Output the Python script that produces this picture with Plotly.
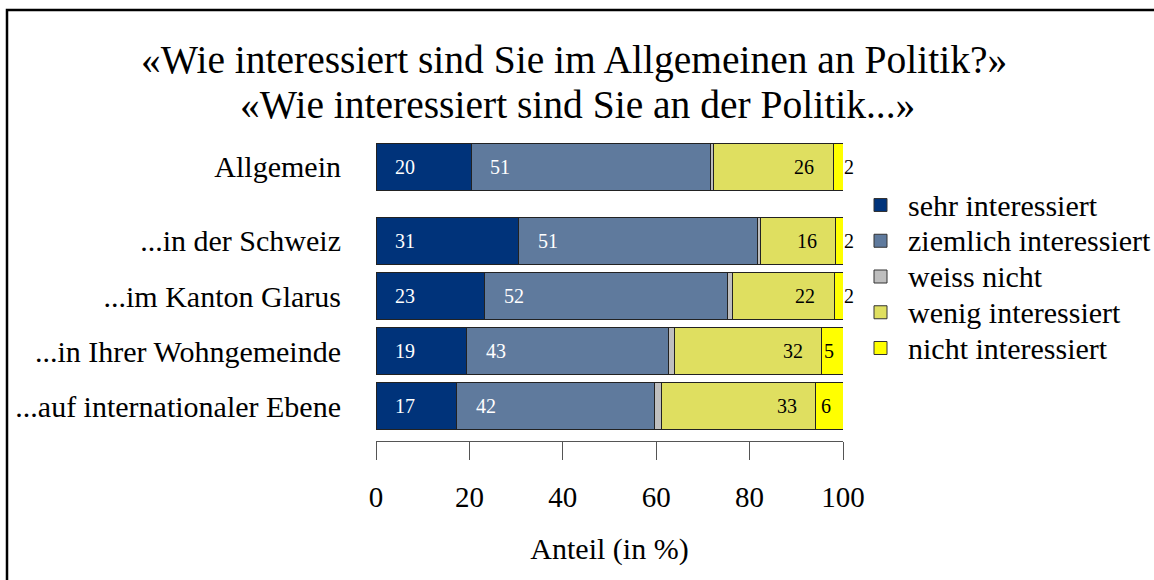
import plotly.graph_objects as go

# data (percent)
categories = ["Allgemein", "...in der Schweiz", "...im Kanton Glarus",
              "...in Ihrer Wohngemeinde", "...auf internationaler Ebene"]
series = ["sehr interessiert", "ziemlich interessiert", "weiss nicht",
          "wenig interessiert", "nicht interessiert"]
sehr = [20.4, 30.6, 23.3, 19.4, 17.3]
ziemlich = [51.2, 51.1, 51.9, 43.3, 42.3]
weiss = [0.7, 0.6, 1.1, 1.2, 1.6]
wenig = [25.6, 16.1, 21.8, 31.5, 33.0]
nicht = [2.1, 1.6, 1.9, 4.6, 5.8]
xticks = [0, 20, 40, 60, 80, 100]

values = [sehr, ziemlich, weiss, wenig, nicht]
colors = ["#00337A", "#5F7A9D", "#BEBEBE", "#DFDF60", "#FFFF00"]
FONT = "Liberation Serif"

# plot area in pixels: x 376..843, y 140..441
W, H = 1154, 580
L, R, T, B = 376, 311, 140, 139
pw, ph = W - L - R, H - T - B


def px_x(p):
    return (p - L) / pw


def px_y(p):
    return (H - B - p) / ph


# y positions: one slot per category, extra gap below "Allgemein"
n = len(categories)
ypos = [n - 1 - i for i in range(n)]
ypos[0] += 0.35

fig = go.Figure()
for name, vals, col in zip(series, values, colors):
    fig.add_trace(go.Bar(
        y=ypos, x=vals, name=name, orientation="h", width=0.855,
        marker=dict(color=col, line=dict(color="#222222", width=1)),
        hoverinfo="x+name", showlegend=False,
    ))

# value labels
annots = []
lab_font = lambda c: dict(color=c, size=20, family=FONT)
for i in range(n):
    start = 0
    for k, vals in enumerate(values):
        v = vals[i]
        end = start + v
        lab = str(round(v))
        if k in (0, 1):
            annots.append(dict(x=start + 6.2, y=ypos[i], text=lab, showarrow=False,
                               font=lab_font("white")))
        elif k == 3:
            annots.append(dict(x=end - 6.2, y=ypos[i], text=lab, showarrow=False,
                               font=lab_font("black")))
        elif k == 4:
            if v >= 3:
                annots.append(dict(x=(start + end) / 2 - 0.7, y=ypos[i], text=lab,
                                   showarrow=False, font=lab_font("black")))
            else:
                annots.append(dict(x=min(end, xticks[-1]), y=ypos[i], text=lab,
                                   showarrow=False, xanchor="left", xshift=-1,
                                   font=lab_font("black")))
        start = end

# title
annots += [
    dict(xref="paper", yref="paper", x=px_x(574), y=px_y(60), showarrow=False,
         text="«Wie interessiert sind Sie im Allgemeinen an Politik?»",
         font=dict(size=39.5, family=FONT, color="black"), yanchor="middle"),
    dict(xref="paper", yref="paper", x=px_x(577.5), y=px_y(105), showarrow=False,
         text="«Wie interessiert sind Sie an der Politik...»",
         font=dict(size=39.5, family=FONT, color="black"), yanchor="middle"),
]

# hand-made legend
shapes = [dict(type="rect", xref="paper", yref="paper",
               x0=px_x(7), x1=px_x(1300), y0=px_y(700), y1=px_y(10),
               line=dict(color="black", width=2.5), layer="below")]
for k, (name, col) in enumerate(zip(series, colors)):
    cy = 205 + 35.75 * k
    shapes.append(dict(type="rect", xref="paper", yref="paper",
                       x0=px_x(874), x1=px_x(887), y0=px_y(cy + 6.5), y1=px_y(cy - 6.5),
                       fillcolor=col, line=dict(color="#333333", width=1)))
    annots.append(dict(xref="paper", yref="paper", x=px_x(906), y=px_y(cy),
                       xanchor="left", yanchor="middle", showarrow=False, text=name,
                       font=dict(size=30, family=FONT, color="black")))

fig.update_layout(
    width=W, height=H,
    margin=dict(l=L, r=R, t=T, b=B, autoexpand=False),
    barmode="stack",
    plot_bgcolor="white", paper_bgcolor="white",
    font=dict(family=FONT, color="black", size=30),
    showlegend=False,
    annotations=annots,
    shapes=shapes,
)
fig.update_xaxes(range=[0, 100], tickvals=xticks, showgrid=False, zeroline=False,
                 showline=True, linecolor="#555555", linewidth=1,
                 ticks="outside", ticklen=18, tickcolor="#555555", tickwidth=1,
                 tickfont=dict(size=29, family=FONT), ticklabelstandoff=12,
                 title=dict(text="Anteil (in %)", font=dict(size=30, family=FONT), standoff=26),
                 fixedrange=True)
fig.update_yaxes(range=[-0.636, 4.836], tickvals=ypos, ticktext=categories,
                 showgrid=False, zeroline=False, showline=False, ticks="",
                 tickfont=dict(size=30, family=FONT), ticklabelstandoff=34,
                 fixedrange=True)

fig.write_html("out.html", config={"displayModeBar": False},
               post_script="document.body.style.margin='0';")
